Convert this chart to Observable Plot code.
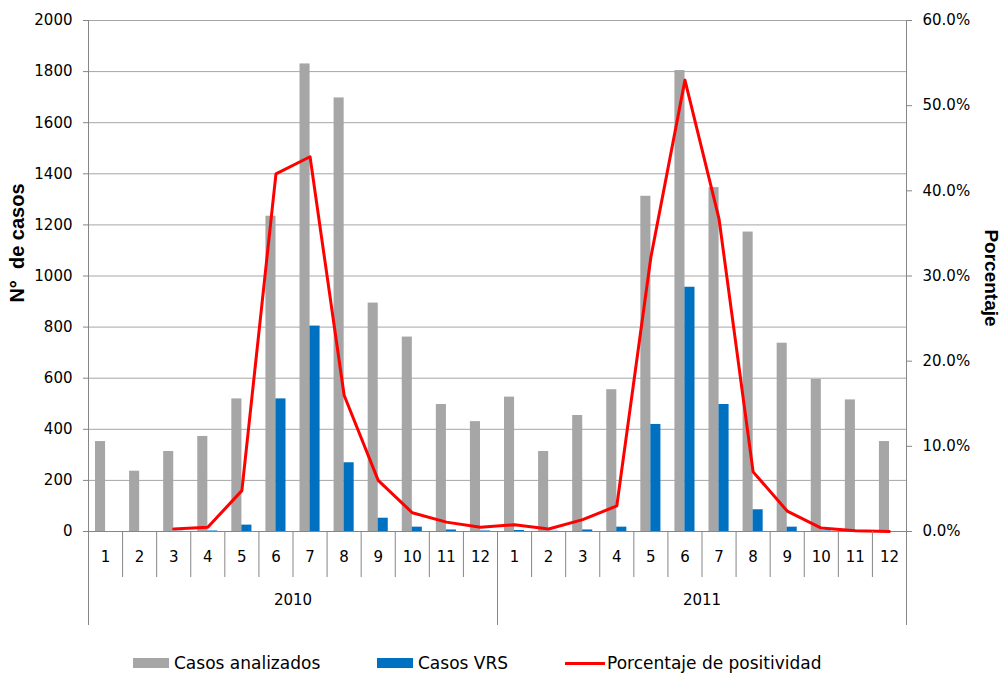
<!DOCTYPE html>
<html>
<head>
<meta charset="utf-8">
<script src="https://cdn.jsdelivr.net/npm/d3@7"></script>
<script src="https://cdn.jsdelivr.net/npm/@observablehq/plot@0.6"></script>
<style>
  html, body { margin: 0; padding: 0; background: #fff; }
  #wrap { position: relative; width: 1004px; height: 673px; font-family: "DejaVu Sans", Verdana, sans-serif; overflow: hidden; }
  .item { position: absolute; top: 650px; height: 26px; display: flex; align-items: center; font-size: 17px; line-height: 1; color: #000; white-space: nowrap; }
  .sw { display: inline-block; width: 36px; height: 10px; margin-right: 5px; }
  .ln { display: inline-block; width: 40px; height: 3px; margin-right: 2px; }
</style>
</head>
<body>
<div id="wrap">
  <div id="chart"></div>
</div>
<script>
const years = ["2010", "2011"];
const monthLabels = ["1","2","3","4","5","6","7","8","9","10","11","12"];
const analizados2010 = [352, 236, 313, 372, 519, 1234, 1830, 1697, 894, 761, 497, 430];
const analizados2011 = [526, 313, 454, 555, 1312, 1804, 1346, 1172, 737, 595, 515, 352];
const vrs2010 = [0, 0, 1, 2, 25, 519, 804, 269, 52, 17, 6, 2];
const vrs2011 = [4, 1, 6, 17, 419, 956, 497, 85, 17, 2, 0, 0];
const pct2010 = [null, null, 0.3, 0.5, 4.8, 42.0, 44.0, 16.0, 6.0, 2.2, 1.1, 0.5];
const pct2011 = [0.8, 0.3, 1.4, 3.0, 32.2, 53.0, 36.7, 7.0, 2.4, 0.4, 0.1, 0.0];
const leftTicks = [0, 200, 400, 600, 800, 1000, 1200, 1400, 1600, 1800, 2000];
const rightTicks = [0, 10, 20, 30, 40, 50, 60];
const seriesNames = ["Casos analizados", "Casos VRS", "Porcentaje de positividad"];
const seriesColors = ["#a6a6a6", "#0070c0", "#ff0000"];

const yMax = 2000, pMax = 60;
const byYear = [
  {a: analizados2010, v: vrs2010, p: pct2010},
  {a: analizados2011, v: vrs2011, p: pct2011}
];
const rows = [];
years.forEach((yr, j) => {
  monthLabels.forEach((m, k) => {
    rows.push({i: j * 12 + k, year: yr, month: m,
      analizados: byYear[j].a[k], vrs: byYear[j].v[k], pct: byYear[j].p[k]});
  });
});
const boundaries = d3.range(rows.length + 1);
const yearBounds = [0, 12, 24];

const axisGray = "#868686";
const gridGray = "#a6a6a6";
const titleFont = "'Liberation Sans', Arial, sans-serif";

const chart = Plot.plot({
  width: 1004,
  height: 630,
  marginLeft: 88,
  marginRight: 98,
  marginTop: 20,
  marginBottom: 99,
  x: {domain: [0, 24], axis: null},
  y: {domain: [0, yMax], axis: null},
  style: {fontFamily: "'DejaVu Sans', Verdana, sans-serif", fontSize: "15px", color: "#000", background: "#fff", overflow: "visible"},
  marks: [
    Plot.gridY(leftTicks.filter(d => d > 0), {stroke: gridGray, strokeOpacity: 1}),
    Plot.rectY(rows, {x1: "i", x2: d => d.i + 1, y: "analizados", fill: seriesColors[0], insetLeft: 7, insetRight: 17}),
    Plot.rectY(rows, {x1: "i", x2: d => d.i + 1, y: "vrs", fill: seriesColors[1], insetLeft: 17, insetRight: 7}),
    Plot.ruleY([0], {stroke: axisGray}),
    Plot.ruleX([0, 24], {stroke: axisGray}),
    Plot.line(rows, {x: d => d.i + 0.5, y: d => d.pct == null ? NaN : d.pct / pMax * yMax, stroke: seriesColors[2], strokeWidth: 3, strokeLinejoin: "round"}),
    Plot.axisY(leftTicks, {anchor: "left", tickSize: 5, tickPadding: 11, stroke: axisGray, fill: "#000", label: null, fontSize: 15,
      tickFormat: d => String(d)}),
    Plot.axisY(rightTicks.map(p => p / pMax * yMax), {anchor: "right", tickSize: 5, tickPadding: 11, stroke: axisGray, fill: "#000", label: null, fontSize: 15,
      tickFormat: v => (v * pMax / yMax).toFixed(1) + "%"}),
    Plot.axisX(boundaries, {anchor: "bottom", tickSize: 46, tickFormat: () => "", stroke: axisGray, label: null}),
    Plot.axisX(yearBounds, {anchor: "bottom", tickSize: 94, tickFormat: () => "", stroke: axisGray, label: null}),
    Plot.text(rows, {x: d => d.i + 0.5, text: "month", frameAnchor: "bottom", dy: 30, fontSize: 15, fill: "#000"}),
    Plot.text(years, {x: (d, j) => j * 12 + 6, text: d => d, frameAnchor: "bottom", dy: 73, fontSize: 15, fill: "#000"}),
    Plot.text(["N°  de casos"], {frameAnchor: "left", textAnchor: "middle", dx: -71, dy: -33, rotate: -90, fontSize: 20, fontWeight: "bold", fontFamily: titleFont, fill: "#000"}),
    Plot.text(["Porcentaje"], {frameAnchor: "right", textAnchor: "middle", dx: 85, dy: 2, rotate: 90, fontSize: 19, fontWeight: "bold", fontFamily: titleFont, fill: "#000"})
  ]
});
document.getElementById("chart").appendChild(chart);

const wrap = document.getElementById("wrap");
const legendLeft = [133, 377, 565];
seriesNames.forEach((name, k) => {
  const d = document.createElement("div");
  d.className = "item";
  d.style.left = legendLeft[k] + "px";
  const s = document.createElement("span");
  s.className = k < 2 ? "sw" : "ln";
  s.style.background = seriesColors[k];
  const t = document.createElement("span");
  t.textContent = name;
  d.appendChild(s); d.appendChild(t);
  wrap.appendChild(d);
});
</script>
</body>
</html>
